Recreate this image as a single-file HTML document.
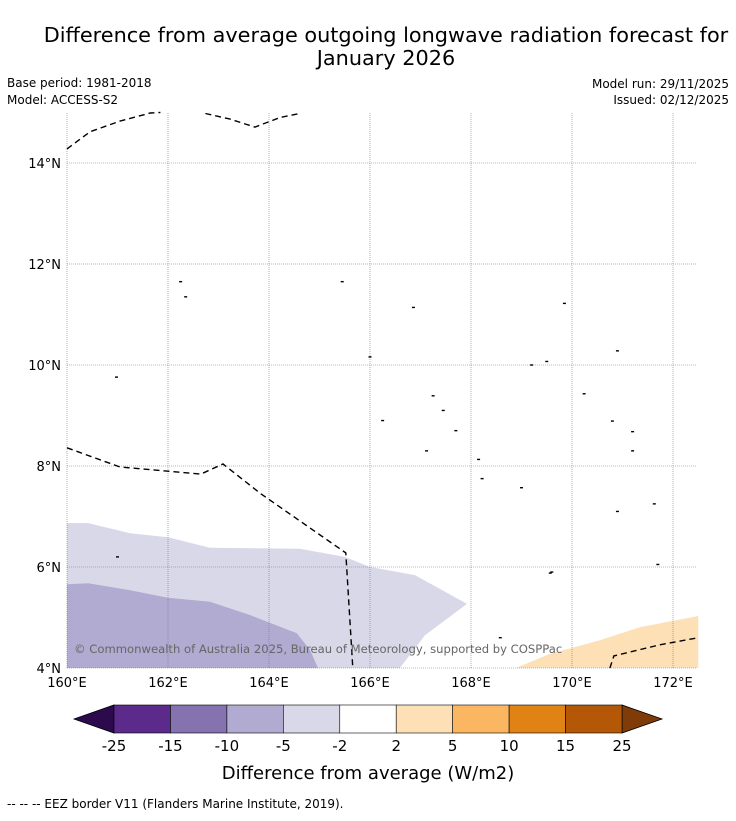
<!DOCTYPE html>
<html><head><meta charset="utf-8"><style>
body{margin:0;background:#fff;font-family:"Liberation Sans","DejaVu Sans",sans-serif;}
svg text{font-family:"DejaVu Sans","Liberation Sans",sans-serif;}
</style></head><body>
<svg id="c" width="736" height="816" viewBox="0 0 736 816">
<text x="386" y="42" font-size="20.8" text-anchor="middle">Difference from average outgoing longwave radiation forecast for</text>
<text x="386" y="65" font-size="20.8" text-anchor="middle">January 2026</text>
<text x="7" y="87" font-size="12">Base period: 1981-2018</text>
<text x="7" y="104" font-size="12">Model: ACCESS-S2</text>
<text x="729" y="88" font-size="12" text-anchor="end">Model run: 29/11/2025</text>
<text x="729" y="104" font-size="12" text-anchor="end">Issued: 02/12/2025</text>
<g id="map"></g>
<g id="cb"></g>
<text x="368" y="779" font-size="18" text-anchor="middle">Difference from average (W/m2)</text>
<text x="7" y="808" font-size="12">--  --  -- EEZ border V11 (Flanders Marine Institute, 2019).</text>
</svg>
<script>
const NS="http://www.w3.org/2000/svg";
const lonTicks=[160,162,164,166,168,170,172];
const latTicks=[4,6,8,10,12,14];
const lightLon=[160,160.42,161.25,162,162.83,164.61,165.5,166,166.89,167.92,167.09,166.59,160];
const lightLat=[6.87,6.87,6.67,6.59,6.38,6.36,6.2,6.0,5.84,5.27,4.65,4,4];
const darkLon=[160,160.42,161.25,162,162.83,163.62,164.55,164.81,164.97,160];
const darkLat=[5.66,5.68,5.54,5.39,5.31,5.05,4.69,4.36,4,4];
const orangeLon=[168.89,169.56,170.55,171.35,172.5,172.5];
const orangeLat=[4,4.28,4.55,4.81,5.03,4];
const eezTopLon=[160,160.46,161.05,161.65,161.85];
const eezTopLat=[14.28,14.62,14.83,14.99,15.0];
const eezTop2Lon=[162.74,163.23,163.72,164.22,164.61];
const eezTop2Lat=[14.98,14.87,14.71,14.9,14.98];
const eezMidLon=[160,161.05,162.65,163.09,163.84,165.52,165.66];
const eezMidLat=[8.36,7.98,7.84,8.04,7.45,6.28,4];
const eezBRLon=[170.75,170.83,171.74,172.5];
const eezBRLat=[4,4.24,4.46,4.6];
const islandLon=[160.98,162.25,162.35,165.45,166,166.86,167.25,167.45,167.7,168.15,168.22,169.0,169.2,169.5,169.57,169.85,170.24,170.8,171.2,171.63,171.7,168.58,169.6,170.9,171.2,170.9,161.0,167.12,166.25];
const islandLat=[9.76,11.65,11.35,11.65,10.16,11.14,9.39,9.1,8.7,8.13,7.75,7.57,10.0,10.07,5.88,11.22,9.43,8.89,8.68,7.25,6.05,4.6,5.9,10.28,8.3,7.1,6.2,8.3,8.9];
const cbBounds=["-25","-15","-10","-5","-2","2","5","10","15","25"];
const cbColors=["#5b2a8b","#8473ae","#b1aad1","#d8d8e9","#ffffff","#fde0b6","#fbb662","#e08214","#b45807"];
const X=lon=>67+(lon-160)*50.5, Y=lat=>668-(lat-4)*50.5;
const map=document.getElementById('map');
function mk(tag,attrs,parent){const e=document.createElementNS(NS,tag);for(const k in attrs)e.setAttribute(k,attrs[k]);parent.appendChild(e);return e;}
function pts(lo,la){return lo.map((v,i)=>X(v).toFixed(1)+','+Y(la[i]).toFixed(1)).join(' ');}
let p=mk('polygon',{points:pts(lightLon,lightLat),fill:'#d8d8e9'},map);


p=mk('polygon',{points:pts(darkLon,darkLat),fill:'#b1aad1'},map);


p=mk('polygon',{points:pts(orangeLon,orangeLat),fill:'#fde0b6'},map);


lonTicks.forEach(l=>{const g=mk('line',{x1:X(l),x2:X(l),y1:113,y2:668,stroke:'#777','stroke-width':0.6,'stroke-dasharray':'1,1'},map);


const t=mk('text',{x:X(l),y:687,'font-size':13,'text-anchor':'middle'},map);t.textContent=l+'°E';

});
latTicks.forEach(l=>{const g=mk('line',{x1:67,x2:697,y1:Y(l),y2:Y(l),stroke:'#777','stroke-width':0.6,'stroke-dasharray':'1,1'},map);


const t=mk('text',{x:61,y:Y(l)+5,'font-size':13,'text-anchor':'end'},map);t.textContent=l+'°N';

});
[[eezTopLon,eezTopLat],[eezTop2Lon,eezTop2Lat],[eezMidLon,eezMidLat],[eezBRLon,eezBRLat]].forEach(([a,b])=>{const l=mk('polyline',{points:pts(a,b),fill:'none',stroke:'#000','stroke-width':1.4,'stroke-dasharray':'6,4'},map);

});
islandLon.forEach((v,i)=>{const r=mk('rect',{x:X(v)-1.5,y:Y(islandLat[i])-0.7,width:3,height:1.4,fill:'#000'},map);

});
let cp=mk('text',{x:74,y:653,'font-size':11.6,fill:'#666'},map);cp.textContent='© Commonwealth of Australia 2025, Bureau of Meteorology, supported by COSPPac';


const cb=document.getElementById('cb');const x0=114,x1=622,w=(x1-x0)/cbColors.length,yt=705,yb=733;
let tri=mk('polygon',{points:`74,719 ${x0},${yt} ${x0},${yb}`,fill:'#2d0a4e',stroke:'#000','stroke-width':0.8},cb);


tri=mk('polygon',{points:`662,719 ${x1},${yt} ${x1},${yb}`,fill:'#7f3b08',stroke:'#000','stroke-width':0.8},cb);


cbColors.forEach((c,i)=>{const r=mk('rect',{x:x0+i*w,y:yt,width:w,height:yb-yt,fill:c,stroke:'#000','stroke-width':0.6},cb);

});
cbBounds.forEach((s,i)=>{const t=mk('text',{x:x0+i*w,y:751,'font-size':15,'text-anchor':'middle'},cb);t.textContent=s;

});
</script>
</body></html>
